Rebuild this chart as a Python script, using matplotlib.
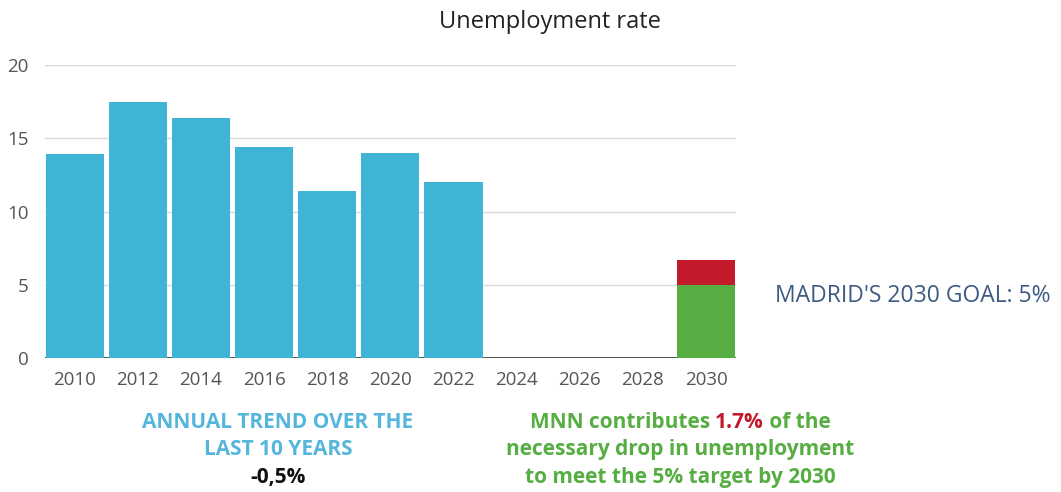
import matplotlib.pyplot as plt

# Data
years = ['2010', '2012', '2014', '2016', '2018', '2020', '2022', '2024', '2026', '2028', '2030']
unemployment = [13.9, 17.5, 16.4, 14.4, 11.4, 14.0, 12.0, 0, 0, 0, 0]
goal_2030 = 5.0
mnn_contribution = 1.7

blue = '#3fb4d4'
green = '#56ae43'
red = '#c21a2b'
plt.rcParams['font.family'] = ['Open Sans', 'DejaVu Sans']

fig = plt.figure(figsize=(10.61, 4.92), dpi=100)
ax = fig.add_axes([0.0424, 0.272, 0.651, 0.596])

x = list(range(len(years)))
ax.bar(x[:7], unemployment[:7], width=0.92, color=blue, zorder=3)
ax.bar(x[10], goal_2030, width=0.92, color=green, zorder=3)
ax.bar(x[10], mnn_contribution, bottom=goal_2030, width=0.92, color=red, zorder=3)

ax.set_xlim(-0.47, 10.47)
ax.set_ylim(0, 20)
ax.set_yticks([0, 5, 10, 15, 20])
ax.set_xticks(x)
ax.set_xticklabels(years)
ax.grid(axis='y', color='#d9d9d9', linewidth=1, zorder=0)
ax.axhline(0, color='#222222', linewidth=1.8, zorder=2)
for s in ax.spines.values():
    s.set_visible(False)
ax.tick_params(length=0, labelsize=13.5, labelcolor='#555555')
ax.tick_params(axis='x', pad=9)
ax.tick_params(axis='y', pad=12)

fig.text(0.518, 0.955, 'Unemployment rate', ha='center', va='center', fontsize=17, color='#222222')
fig.text(0.730, 0.398, "MADRID'S 2030 GOAL: 5%", ha='left', va='center', fontsize=16.5, color='#3d5a80')

line_y = [0.142, 0.0854, 0.0285]
cap_size = 15

# left caption
fig.text(0.262, line_y[0], 'ANNUAL TREND OVER THE', ha='center', va='center',
         fontsize=cap_size, fontweight='bold', color='#55b6dc')
fig.text(0.262, line_y[1], 'LAST 10 YEARS', ha='center', va='center',
         fontsize=cap_size, fontweight='bold', color='#55b6dc')
fig.text(0.262, line_y[2], '-0,5%', ha='center', va='center', fontsize=cap_size, fontweight='bold', color='#111111')

# right caption with red highlight on first line
fig.canvas.draw()
renderer = fig.canvas.get_renderer()
parts = [('MNN contributes ', green), ('1.7%', red), (' of the', green)]
texts = [fig.text(0, line_y[0], p, ha='left', va='center', fontsize=cap_size, fontweight='bold', color=c)
         for p, c in parts]
widths = [t.get_window_extent(renderer).width / fig.bbox.width for t in texts]
start = 0.641 - sum(widths) / 2
for t, w in zip(texts, widths):
    t.set_x(start)
    start += w
fig.text(0.641, line_y[1], 'necessary drop in unemployment', ha='center', va='center',
         fontsize=cap_size, fontweight='bold', color=green)
fig.text(0.641, line_y[2], 'to meet the 5% target by 2030', ha='center', va='center',
         fontsize=cap_size, fontweight='bold', color=green)

plt.savefig('out.png', dpi=100)
